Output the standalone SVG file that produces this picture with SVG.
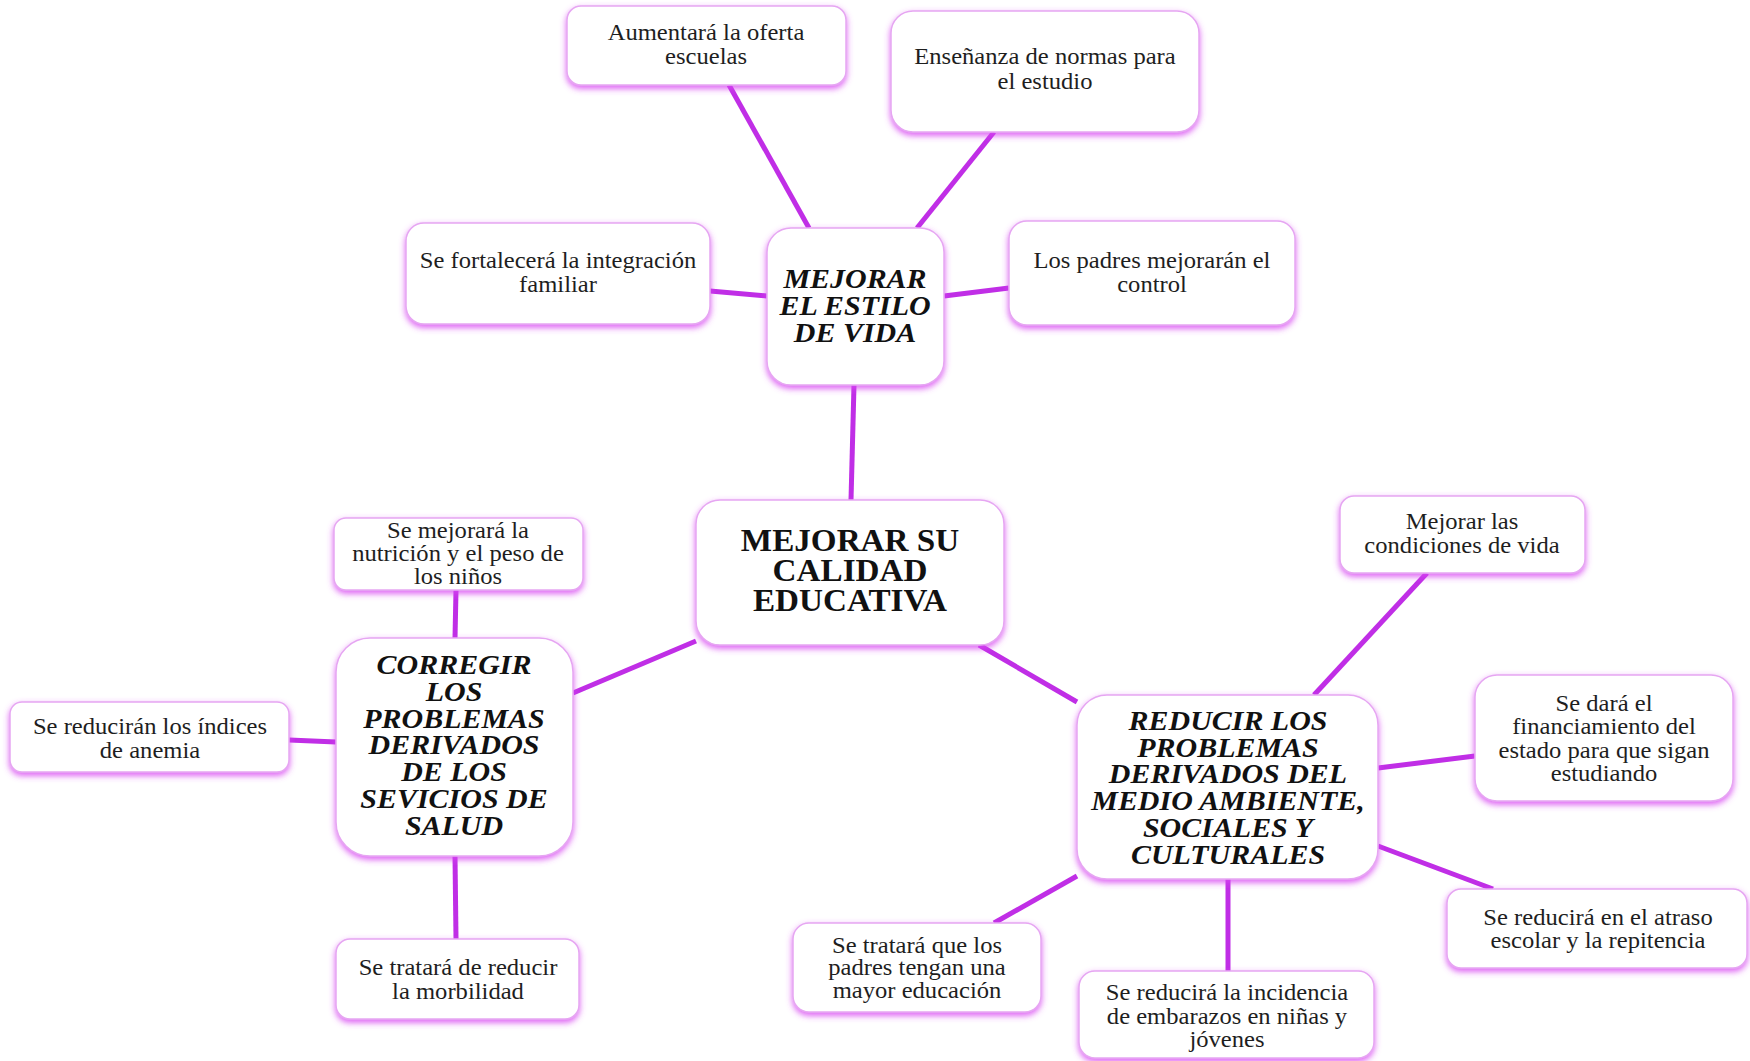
<svg xmlns="http://www.w3.org/2000/svg" width="1750" height="1061" viewBox="0 0 1750 1061" xml:space="preserve">
  <defs>
    <filter id="glow" x="-20%" y="-20%" width="140%" height="150%">
      <feDropShadow dx="0" dy="3" stdDeviation="3" flood-color="#d845f2" flood-opacity="0.85"/>
    </filter>
    <style>
      .box { fill: #ffffff; stroke: #e6a6f2; stroke-width: 1.5; filter: url(#glow); }
      .edge { stroke: #c02ee6; stroke-width: 5; stroke-linecap: butt; fill: none; }
      .leaf { font-family: "Liberation Serif", "Times New Roman", serif; font-size: 23px; fill: #1e1e1e; text-anchor: middle; }
      .head { font-family: "Liberation Serif", "Times New Roman", serif; font-size: 28px; font-weight: bold; font-style: italic; fill: #111; text-anchor: middle; }
      .core { font-family: "Liberation Serif", "Times New Roman", serif; font-size: 31px; font-weight: bold; fill: #111; text-anchor: middle; }
    </style>
  </defs>
  <rect width="1750" height="1061" fill="#ffffff"/>

  <!-- connectors -->
  <g id="connectors">
    <line class="edge" x1="729" y1="85" x2="809" y2="228"/>
    <line class="edge" x1="994" y1="132" x2="917" y2="228"/>
    <line class="edge" x1="710" y1="291" x2="767" y2="296"/>
    <line class="edge" x1="1009" y1="288" x2="944" y2="296"/>
    <line class="edge" x1="854" y1="385" x2="851" y2="500"/>
    <line class="edge" x1="696" y1="641" x2="573" y2="693"/>
    <line class="edge" x1="979" y1="645" x2="1077" y2="702"/>
    <line class="edge" x1="456" y1="590" x2="455" y2="638"/>
    <line class="edge" x1="289" y1="740" x2="336" y2="742"/>
    <line class="edge" x1="455" y1="856" x2="456" y2="939"/>
    <line class="edge" x1="1427" y1="573" x2="1314" y2="695"/>
    <line class="edge" x1="1475" y1="756" x2="1378" y2="768"/>
    <line class="edge" x1="1493" y1="889" x2="1378" y2="846"/>
    <line class="edge" x1="994" y1="923" x2="1077" y2="876"/>
    <line class="edge" x1="1228" y1="971" x2="1228" y2="879"/>
  </g>

  <!-- MEJORAR EL ESTILO DE VIDA branch -->
  <g id="oferta-escuelas">
    <rect class="box" x="567" y="6" width="279" height="79" rx="14"/>
    <g transform="translate(706 0) scale(1.07 1)">
      <text class="leaf"><tspan x="0" y="40">Aumentará  la oferta</tspan><tspan x="0" y="64">escuelas</tspan></text>
    </g>
  </g>
  <g id="normas-estudio">
    <rect class="box" x="891" y="11" width="308" height="121" rx="22"/>
    <g transform="translate(1045 0) scale(1.07 1)">
      <text class="leaf"><tspan x="0" y="64">Enseñanza  de normas para</tspan><tspan x="0" y="89">el estudio</tspan></text>
    </g>
  </g>
  <g id="integracion-familiar">
    <rect class="box" x="406" y="223" width="304" height="101" rx="18"/>
    <g transform="translate(558 0) scale(1.07 1)">
      <text class="leaf"><tspan x="0" y="268">Se fortalecerá  la integración</tspan><tspan x="0" y="292">familiar</tspan></text>
    </g>
  </g>
  <g id="estilo-vida">
    <rect class="box" x="767" y="228" width="177" height="157" rx="24"/>
    <g transform="translate(855 0) scale(1.07 1)">
      <text class="head"><tspan x="0" y="288">MEJORAR</tspan><tspan x="0" y="315">EL ESTILO</tspan><tspan x="0" y="342">DE VIDA</tspan></text>
    </g>
  </g>
  <g id="padres-control">
    <rect class="box" x="1009" y="221" width="286" height="104" rx="18"/>
    <g transform="translate(1152 0) scale(1.07 1)">
      <text class="leaf"><tspan x="0" y="268">Los padres mejorarán  el</tspan><tspan x="0" y="292">control</tspan></text>
    </g>
  </g>

  <!-- central node -->
  <g id="calidad-educativa">
    <rect class="box" x="696" y="500" width="308" height="145" rx="24"/>
    <g transform="translate(850 0) scale(1.07 1)">
      <text class="core"><tspan x="0" y="551">MEJORAR SU</tspan><tspan x="0" y="581">CALIDAD</tspan><tspan x="0" y="611">EDUCATIVA</tspan></text>
    </g>
  </g>

  <!-- salud branch -->
  <g id="nutricion-peso">
    <rect class="box" x="334" y="518" width="249" height="72" rx="12"/>
    <g transform="translate(458 0) scale(1.07 1)">
      <text class="leaf"><tspan x="0" y="538">Se mejorará  la</tspan><tspan x="0" y="561">nutrición  y el  peso de</tspan><tspan x="0" y="584">los niños</tspan></text>
    </g>
  </g>
  <g id="servicios-salud">
    <rect class="box" x="336" y="638" width="237" height="218" rx="34"/>
    <g transform="translate(454 0) scale(1.07 1)">
      <text class="head"><tspan x="0" y="674">CORREGIR</tspan><tspan x="0" y="701">LOS</tspan><tspan x="0" y="728">PROBLEMAS</tspan><tspan x="0" y="754">DERIVADOS</tspan><tspan x="0" y="781">DE LOS</tspan><tspan x="0" y="808">SEVICIOS DE</tspan><tspan x="0" y="835">SALUD</tspan></text>
    </g>
  </g>
  <g id="indices-anemia">
    <rect class="box" x="10" y="702" width="279" height="70" rx="12"/>
    <g transform="translate(150 0) scale(1.07 1)">
      <text class="leaf"><tspan x="0" y="734">Se reducirán  los índices</tspan><tspan x="0" y="758">de anemia</tspan></text>
    </g>
  </g>
  <g id="morbilidad">
    <rect class="box" x="336" y="939" width="243" height="80" rx="14"/>
    <g transform="translate(458 0) scale(1.07 1)">
      <text class="leaf"><tspan x="0" y="975">Se tratará  de reducir</tspan><tspan x="0" y="999">la morbilidad</tspan></text>
    </g>
  </g>

  <!-- medio ambiente branch -->
  <g id="condiciones-vida">
    <rect class="box" x="1340" y="496" width="245" height="77" rx="14"/>
    <g transform="translate(1462 0) scale(1.07 1)">
      <text class="leaf"><tspan x="0" y="529">Mejorar  las</tspan><tspan x="0" y="553">condiciones de vida</tspan></text>
    </g>
  </g>
  <g id="financiamiento">
    <rect class="box" x="1475" y="675" width="258" height="126" rx="22"/>
    <g transform="translate(1604 0) scale(1.07 1)">
      <text class="leaf"><tspan x="0" y="711">Se dará el</tspan><tspan x="0" y="734">financiamiento  del</tspan><tspan x="0" y="758">estado para que sigan</tspan><tspan x="0" y="781">estudiando</tspan></text>
    </g>
  </g>
  <g id="medio-ambiente">
    <rect class="box" x="1077" y="695" width="301" height="184" rx="30"/>
    <g transform="translate(1228 0) scale(1.07 1)">
      <text class="head"><tspan x="0" y="730">REDUCIR LOS</tspan><tspan x="0" y="757">PROBLEMAS</tspan><tspan x="0" y="783">DERIVADOS DEL</tspan><tspan x="0" y="810">MEDIO AMBIENTE,</tspan><tspan x="0" y="837">SOCIALES Y</tspan><tspan x="0" y="864">CULTURALES</tspan></text>
    </g>
  </g>
  <g id="atraso-escolar">
    <rect class="box" x="1447" y="889" width="300" height="79" rx="14"/>
    <g transform="translate(1598 0) scale(1.07 1)">
      <text class="leaf"><tspan x="0" y="925">Se reducirá  en el atraso</tspan><tspan x="0" y="948">escolar y la repitencia</tspan></text>
    </g>
  </g>
  <g id="padres-educacion">
    <rect class="box" x="793" y="923" width="248" height="89" rx="16"/>
    <g transform="translate(917 0) scale(1.07 1)">
      <text class="leaf"><tspan x="0" y="953">Se tratará  que los</tspan><tspan x="0" y="975">padres tengan una</tspan><tspan x="0" y="998">mayor educación</tspan></text>
    </g>
  </g>
  <g id="embarazos">
    <rect class="box" x="1079" y="971" width="295" height="87" rx="16"/>
    <g transform="translate(1227 0) scale(1.07 1)">
      <text class="leaf"><tspan x="0" y="1000">Se reducirá  la incidencia</tspan><tspan x="0" y="1024">de embarazos en niñas  y</tspan><tspan x="0" y="1047">jóvenes</tspan></text>
    </g>
  </g>
</svg>
